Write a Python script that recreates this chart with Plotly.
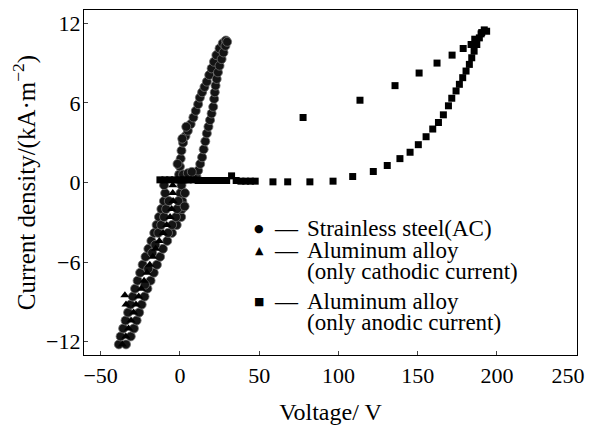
import plotly.graph_objects as go

# ---- Data (Voltage in V, current density in kA/m^2) ----
# Stainless steel (AC) - circles
# negative branch: left edge, right edge and filler points of the dense band
steel_neg_j = [-12.2, -11.6, -11.0, -10.4, -9.8, -9.2, -8.6, -8.0, -7.4, -6.8, -6.2, -5.6, -5.0, -4.4, -3.8, -3.2, -2.6, -2.0, -1.4, -0.8, -0.2]
steel_left_v = [-38.5, -37.4, -35.8, -34.3, -32.7, -31.2, -29.7, -28.3, -26.7, -25.1, -23.5, -21.7, -19.9, -18, -16.2, -14.7, -13.2, -11.7, -10.1, -9.3, -10]
steel_right_v = [-34, -31, -29, -27.3, -25.7, -24.1, -22.3, -20.5, -18.5, -16.5, -14.5, -12.5, -10.7, -8, -5, -2, 0.8, 1.3, 1.5, 0.3, 1]
steel_fill_v = [-13.6, -7.5, -11.8, -4.9, -10, -2.5, -8.7, -1.7, -7, -1, 3.2, 3.0, -20, -22, -17.5, -15.5]
steel_fill_j = [-3.8, -3.8, -3.2, -3.2, -2.6, -2.6, -2.0, -2.0, -1.4, -1.4, -0.8, -1.8, -6.5, -7.7, -5.3, -4.7]
# positive loop: left strand, right strand, merged top part
steel_pos_v = [-0.5, 0, 0.5, 1, 2, 3.5, 5, 6.8, 8.5, 10, 11.5, 12.6, 14, 15.5, -1.5, 1.5, 4,
               10.5, 11.5, 12.8, 14, 15, 16, 17, 18, 19, 20, 21, 21.6, 22,
               17, 18.5, 20, 21.5, 23, 25, 27, 29,
               22.5, 23.2, 24, 25, 26.3, 27.5, 28.7, 29.8, 2, 5, 7.5]
steel_pos_j = [0.6, 1.2, 1.8, 2.4, 3.0, 3.5, 3.9, 4.4, 4.9, 5.4, 5.9, 6.4, 6.8, 7.2, 1.4, 3.3, 4.2,
               0.4, 0.9, 1.4, 1.9, 2.5, 3.1, 3.7, 4.2, 4.7, 5.2, 5.7, 6.3, 6.8,
               7.6, 8.1, 8.6, 9.1, 9.6, 10.1, 10.5, 10.7,
               7.3, 7.8, 8.3, 8.8, 9.3, 9.8, 10.3, 10.6, 0.6, 0.7, 0.8]

# Aluminum alloy (only cathodic current) - triangles
cath_v = [-36.3, -34.1, -32.4, -30.8, -29.2, -27.7, -26, -24.4, -22.6, -20.8, -19, -17.1, -15.3, -13, -10.6, -8.3, -6.2, -5.2, -4.3, -4.5, -4.5,
          -2, 1, 4, -34.7, -34]
cath_j = [-12.2, -11.6, -11.0, -10.4, -9.8, -9.2, -8.6, -8.0, -7.4, -6.8, -6.2, -5.6, -5.0, -4.4, -3.8, -3.2, -2.6, -2.0, -1.4, -0.8, -0.2,
          0.1, 0.1, 0.1, -8.5, -9.2]

# Aluminum alloy (only anodic current) - squares
anod_v = [-12.6, -9.5, -6.5, -3.5, -0.5, 2.5, 5.5, 8.5, 11.5, 14.5, 17.5, 20.5, 23.5, 26.5, 29.5, 32.6, 35.5, 38.5, 41.5, 44.5, 47.5,
          58.7, 68, 82, 96.6, 109, 122, 130.8, 138.8, 145.2, 150.4, 155.3, 159.5, 163.1, 166.2, 169.4, 171.5, 174.2, 176.3,
          178.4, 180.5, 182.6, 184.1, 185.6, 187.3, 188.9, 190.4, 192, 193.5, 190,
          186, 183.7, 178.7, 171.7, 162.2, 150.9, 135.7, 113.6, 77.7]
anod_j = [0.2, 0.2, 0.2, 0.2, 0.2, 0.2, 0.2, 0.2, 0.15, 0.15, 0.15, 0.15, 0.15, 0.15, 0.15, 0.5, 0.15, 0.1, 0.1, 0.1, 0.1,
          0.05, 0.05, 0.05, 0.1, 0.45, 0.83, 1.28, 1.8, 2.28, 2.85, 3.45, 4.03, 4.52, 5.1, 5.78, 6.35, 6.9, 7.4,
          7.9, 8.4, 8.9, 9.4, 9.9, 10.4, 10.9, 11.3, 11.5, 11.4, 11.2,
          10.8, 10.4, 10.1, 9.6, 9.0, 8.25, 7.3, 6.2, 4.9]

x_ticks = [-50, 0, 50, 100, 150, 200, 250]
x_tick_labels = ["−50", "0", "50", "100", "150", "200", "250"]
y_ticks = [-12, -6, 0, 6, 12]

legend_labels = ["Strainless steel(AC)", "Aluminum alloy", "(only cathodic current)",
                 "Aluminum alloy", "(only anodic current)"]

FONT = "Liberation Serif, Times New Roman, serif"

steel_v = steel_left_v + steel_right_v + steel_fill_v + steel_pos_v
steel_j = steel_neg_j + steel_neg_j + steel_fill_j + steel_pos_j

# the last tick label sits slightly left of its tick in the reference (kept inside the page)
x_text = x_tick_labels[:-1] + [x_tick_labels[-1] + "\u00a0" * 3]

fig = go.Figure()
fig.add_trace(go.Scatter(x=steel_v, y=steel_j, mode="markers", name=legend_labels[0],
                         marker=dict(symbol="circle", size=9, color="#141414",
                                     line=dict(width=0.8, color="#6e6e6e"))))
fig.add_trace(go.Scatter(x=cath_v, y=cath_j, mode="markers", name="Aluminum alloy (only cathodic current)",
                         marker=dict(symbol="triangle-up", size=8, color="black")))
fig.add_trace(go.Scatter(x=anod_v, y=anod_j, mode="markers", name="Aluminum alloy (only anodic current)",
                         marker=dict(symbol="square", size=7, color="black")))

# Legend drawn as annotations: marker glyph, dash, text (paper coordinates)
sym_x, dash_x, txt_x = 0.355, 0.381, 0.448
rows = [(0.368, "●", legend_labels[0]), (0.304, "▲", legend_labels[1]), (0.241, None, legend_labels[2]),
        (0.154, "■", legend_labels[3]), (0.093, None, legend_labels[4])]
for y, sym, txt in rows:
    if sym:
        fig.add_annotation(x=sym_x, y=y, xref="paper", yref="paper", text=sym,
                           showarrow=False, xanchor="center", yanchor="middle",
                           font=dict(family="DejaVu Sans", size=11, color="black"))
        fig.add_annotation(x=dash_x, y=y, xref="paper", yref="paper", text="—",
                           showarrow=False, xanchor="left", yanchor="middle",
                           font=dict(family=FONT, size=23, color="black"))
    fig.add_annotation(x=txt_x, y=y, xref="paper", yref="paper", text=txt,
                       showarrow=False, xanchor="left", yanchor="middle",
                       font=dict(family=FONT, size=23, color="black"))

# the page adds an 8px body margin, so the figure is drawn 8px smaller
fig.update_layout(
    width=589, height=418,
    margin=dict(l=76, r=20, t=2, b=71),
    paper_bgcolor="white", plot_bgcolor="white",
    showlegend=False,
    font=dict(family=FONT, size=22, color="black"),
)
fig.update_xaxes(range=[-60.5, 250.5], tickvals=x_ticks, ticktext=x_text, ticks="inside", ticklen=4,
                 showline=True, linecolor="black", linewidth=1.3, mirror=True,
                 showgrid=False, zeroline=False, automargin=False, ticklabelstandoff=0,
                 ticklabeloverflow="allow",
                 title=dict(text="Voltage/ V", font=dict(size=24), standoff=16),
                 tickfont=dict(size=22))
fig.update_yaxes(range=[-13, 13], tickvals=y_ticks, ticks="inside", ticklen=4,
                 showline=True, linecolor="black", linewidth=1.3, mirror=True,
                 showgrid=False, zeroline=False, automargin=False, ticklabelstandoff=-2,
                 title=dict(text="Current density/(kA·m<sup>−2</sup>)", font=dict(size=25), standoff=8),
                 tickfont=dict(size=22))

fig.write_html("out.html")
